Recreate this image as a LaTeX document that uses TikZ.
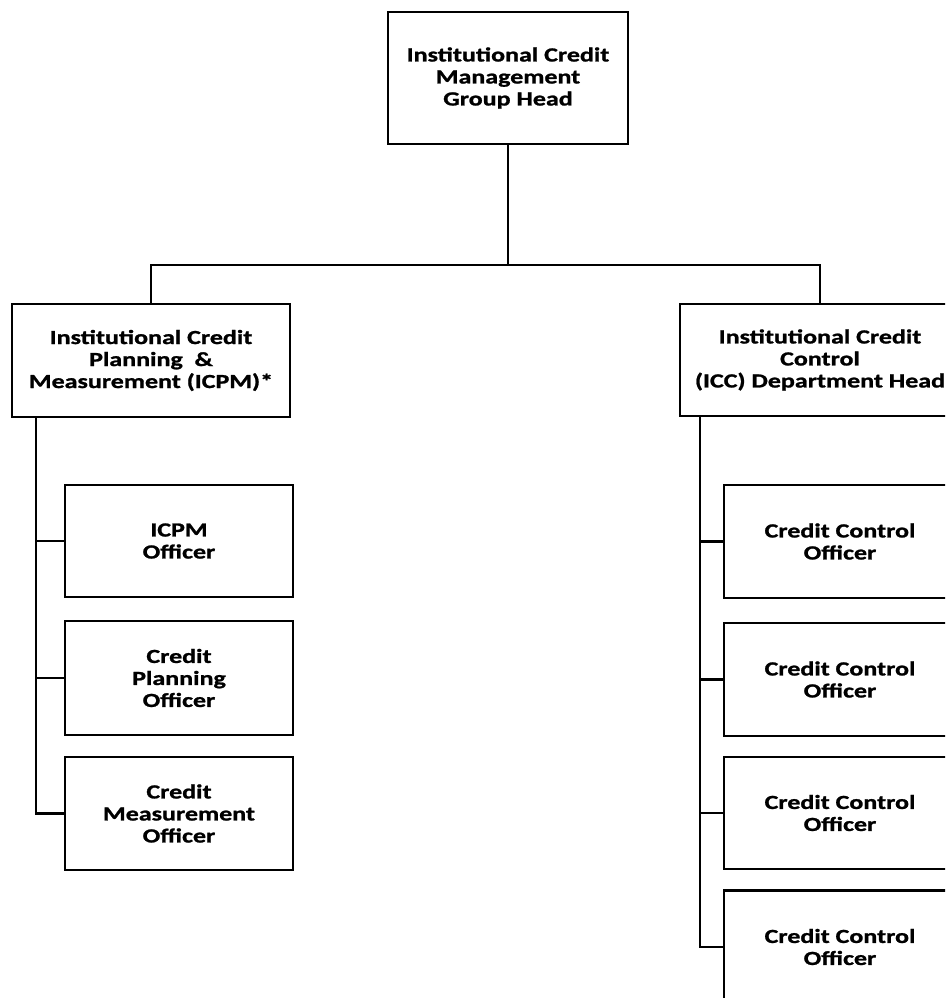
\documentclass[tikz,border=0pt]{standalone}
\usepackage{fontspec}
\setmainfont{Carlito}
\newfontfamily\boxfont{Carlito}[FakeStretch=1.3, FakeBold=1.2]
\begin{document}
\begin{tikzpicture}[x=1pt,y=-1pt,
  box/.style={draw=black, line width=2.8pt, fill=white, rectangle, align=center,
    font=\boxfont\bfseries\fontsize{20}{22}\selectfont, inner sep=0pt},
  link/.style={draw=black, line width=2.8pt}]
  \useasboundingbox (0,0) rectangle (945,998);
  \clip (0,0) rectangle (945,998);

  % group head
  \node[box, minimum width=240pt, minimum height=132pt] (top) at (508,78)
    {Institutional Credit\\Management\\Group Head};

  % departments
  \node[box, minimum width=278pt, minimum height=113pt] (icpm) at (151,360.5)
    {Institutional Credit\\Planning \ \&\\Measurement (ICPM)*};
  \node[box, minimum width=280pt, minimum height=112pt] (icc) at (820,360)
    {Institutional Credit\\Control\\(ICC) Department Head};

  % ICPM staff
  \node[box, minimum width=228pt, minimum height=112pt] (l1) at (179,541) {ICPM\\Officer};
  \node[box, minimum width=228pt, minimum height=114pt] (l2) at (179,678) {Credit\\Planning\\Officer};
  \node[box, minimum width=228pt, minimum height=113pt] (l3) at (179,813.5) {Credit\\Measurement\\Officer};

  % ICC staff
  \node[box, minimum width=232pt, minimum height=113pt] (r1) at (840,541.5) {Credit Control\\Officer};
  \node[box, minimum width=232pt, minimum height=113pt] (r2) at (840,679.5) {Credit Control\\Officer};
  \node[box, minimum width=232pt, minimum height=112pt] (r3) at (840,813) {Credit Control\\Officer};
  \node[box, minimum width=232pt, minimum height=113pt] (r4) at (840,947) {Credit Control\\Officer};

  % reporting lines
  \coordinate (bar) at (508,265);
  \coordinate (lspine) at (36,0);
  \coordinate (rspine) at (700,0);

  \draw[link] (top.south) -- (bar);
  \draw[link] (icpm.north) -- (icpm.north |- bar) -- (icc.north |- bar) -- (icc.north);

  \draw[link] (lspine |- icpm.south) -- (lspine |- l3.west) -- (l3.west);
  \draw[link] (lspine |- l1.west) -- (l1.west);
  \draw[link] (lspine |- l2.west) -- (l2.west);

  \draw[link] (rspine |- icc.south) -- (rspine |- r4.west) -- (r4.west);
  \draw[link] (rspine |- r1.west) -- (r1.west);
  \draw[link] (rspine |- r2.west) -- (r2.west);
  \draw[link] (rspine |- r3.west) -- (r3.west);
\end{tikzpicture}
\end{document}
